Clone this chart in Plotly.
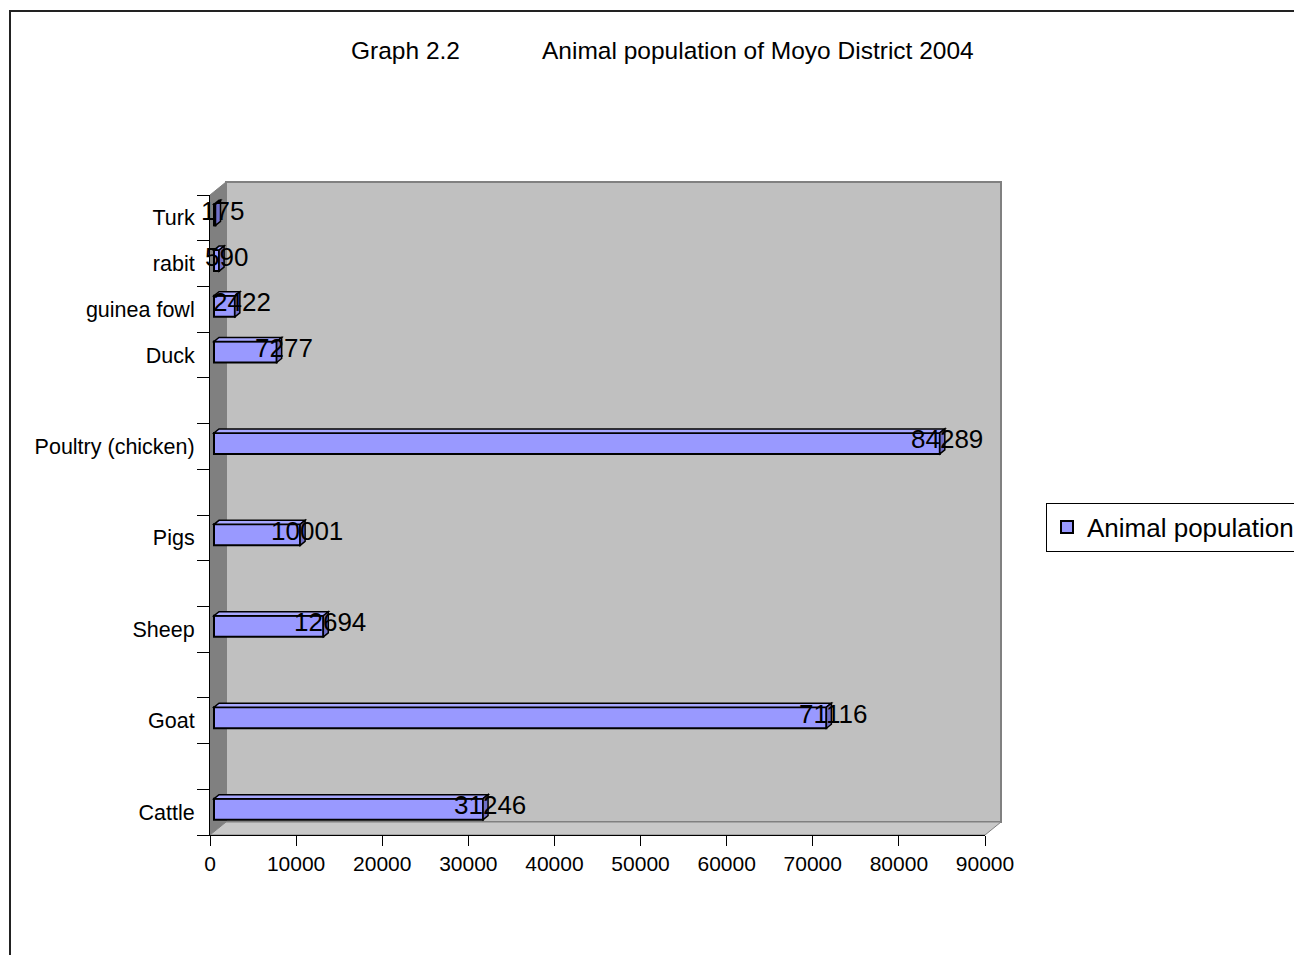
import plotly.graph_objects as go

# ---- data ----
categories = ["Cattle", "Goat", "Sheep", "Pigs", "Poultry (chicken)", "Duck", "guinea fowl", "rabit", "Turk"]
values = [31246, 71116, 12694, 10001, 84289, 7277, 2422, 590, 175]
series_name = "Animal population"
x_ticks = [0, 10000, 20000, 30000, 40000, 50000, 60000, 70000, 80000, 90000]
x_tick_labels = ["0", "10000", "20000", "30000", "40000", "50000", "60000", "70000", "80000", "90000"]
title_left = "Graph 2.2"
title_right = "Animal population of Moyo District 2004"

# category slots (bottom to top), blank spacer slots between the larger groups
slot_order = ["Cattle", " ", "Goat", "  ", "Sheep", "   ", "Pigs", "    ",
              "Poultry (chicken)", "     ", "Duck", "guinea fowl", "rabit", "Turk"]

FONT = "Liberation Sans, Arial, sans-serif"
OFF = 8                     # page body margin
W, H = 1302 - OFF, 955 - OFF
PX0, PX1, PY0, PY1 = 210, 985, 195, 835   # plot area in window pixels
L, T = PX0 - OFF, PY0 - OFF
R, B = W - (PX1 - OFF), H - (PY1 - OFF)
PW = W - L - R
PH = H - T - B
XMAX = x_ticks[-1]
NS = len(slot_order)


def pxx(x):   # window px -> paper x
    return (x - PX0) / PW


def pxy(y):   # window px -> paper y
    return (PY1 - y) / PH


# 3D depth of the box (px) and of the bars (px)
box_dx, box_dy = 16, 13
bar_off_x, bar_off_y = 4, 3
bar_dx, bar_dy = 5, 4
bar_w = 0.46

u_per_px_x = XMAX / PW
u_per_px_y = NS / PH

fig = go.Figure()
# anchors the primary (visible) axes
fig.add_trace(go.Scatter(x=values, y=categories, mode="none", showlegend=False, hoverinfo="skip"))
fig.add_trace(go.Bar(
    x=values, y=categories, orientation="h", name=series_name,
    width=bar_w, xaxis="x2", yaxis="y2",
    marker=dict(color="#9999FF", line=dict(color="black", width=2)),
))

shapes = []
ddx, ddy = box_dx / PW, box_dy / PH
shapes.append(dict(type="path", xref="paper", yref="paper", layer="below",
                   path=f"M {ddx},{ddy} L {1+ddx},{ddy} L {1+ddx},{1+ddy} L {ddx},{1+ddy} Z",
                   fillcolor="#C0C0C0", line=dict(color="#808080", width=2)))
shapes.append(dict(type="path", xref="paper", yref="paper", layer="below",
                   path=f"M 0,0 L {ddx},{ddy} L {ddx},{1+ddy} L 0,1 Z",
                   fillcolor="#808080", line=dict(color="#808080", width=1)))
shapes.append(dict(type="path", xref="paper", yref="paper", layer="below",
                   path=f"M 0,0 L 1,0 L {1+ddx},{ddy} L {ddx},{ddy} Z",
                   fillcolor="#C8C8C8", line=dict(color="#808080", width=1)))
# outer chart border
shapes.append(dict(type="rect", xref="paper", yref="paper",
                   x0=pxx(10), x1=pxx(1330), y0=pxy(990), y1=pxy(11),
                   line=dict(color="#222222", width=2), fillcolor="rgba(0,0,0,0)"))

# 3D faces of bars
dxu, dyu = bar_dx * u_per_px_x, bar_dy * u_per_px_y
for cat, v in zip(categories, values):
    i = slot_order.index(cat)
    yt, yb = i + bar_w / 2, i - bar_w / 2
    shapes.append(dict(type="path", xref="x2", yref="y2",
                       path=f"M 0,{yt} L {v},{yt} L {v+dxu},{yt+dyu} L {dxu},{yt+dyu} Z",
                       fillcolor="#A8A8FF", line=dict(color="black", width=1.5)))
    shapes.append(dict(type="path", xref="x2", yref="y2",
                       path=f"M {v},{yb} L {v+dxu},{yb+dyu} L {v+dxu},{yt+dyu} L {v},{yt} Z",
                       fillcolor="#7070C8", line=dict(color="black", width=1.5)))

annotations = []
for cat, v in zip(categories, values):
    annotations.append(dict(x=v, y=slot_order.index(cat), xref="x2", yref="y2",
                            text=str(v), showarrow=False, xanchor="center", yanchor="middle",
                            xshift=7, yshift=4, font=dict(family=FONT, size=26, color="black")))
annotations.append(dict(x=pxx(349), y=pxy(51), xref="paper", yref="paper",
                        text=title_left, showarrow=False, xanchor="left", yanchor="middle",
                        font=dict(family=FONT, size=24.5, color="black")))
annotations.append(dict(x=pxx(540), y=pxy(51), xref="paper", yref="paper",
                        text=title_right, showarrow=False, xanchor="left", yanchor="middle",
                        font=dict(family=FONT, size=24.5, color="black")))

sx = bar_off_x * u_per_px_x
sy = bar_off_y * u_per_px_y

fig.update_layout(
    width=W, height=H,
    margin=dict(l=L, r=R, t=T, b=B, pad=0, autoexpand=False),
    paper_bgcolor="white", plot_bgcolor="rgba(0,0,0,0)",
    font=dict(family=FONT, size=21, color="black"),
    showlegend=True,
    legend=dict(xref="container", yref="container",
                x=(1046 - OFF) / W, y=1 - (527 - OFF) / H, xanchor="left", yanchor="middle",
                bordercolor="black", borderwidth=1, bgcolor="white",
                font=dict(family=FONT, size=26, color="black")),
    xaxis=dict(range=[0, XMAX], tickvals=x_ticks, ticktext=x_tick_labels,
               showgrid=False, zeroline=False, automargin=False,
               showline=True, linecolor="black", linewidth=1,
               ticks="outside", ticklen=10, tickcolor="black",
               tickfont=dict(family=FONT, size=21, color="black")),
    yaxis=dict(type="category", categoryorder="array", categoryarray=slot_order,
               range=[-0.5, NS - 0.5], showgrid=False, zeroline=False, automargin=False,
               showline=True, linecolor="black", linewidth=1,
               ticks="outside", ticklen=12, tickcolor="black", tickson="boundaries",
               ticklabelstandoff=10,
               tickfont=dict(family=FONT, size=21.5, color="black")),
    xaxis2=dict(overlaying="x", range=[-sx, XMAX - sx], visible=False),
    yaxis2=dict(overlaying="y", type="category", categoryorder="array", categoryarray=slot_order,
                range=[-0.5 - sy, NS - 0.5 - sy], visible=False),
    shapes=shapes, annotations=annotations,
)

fig.write_html("out.html")
